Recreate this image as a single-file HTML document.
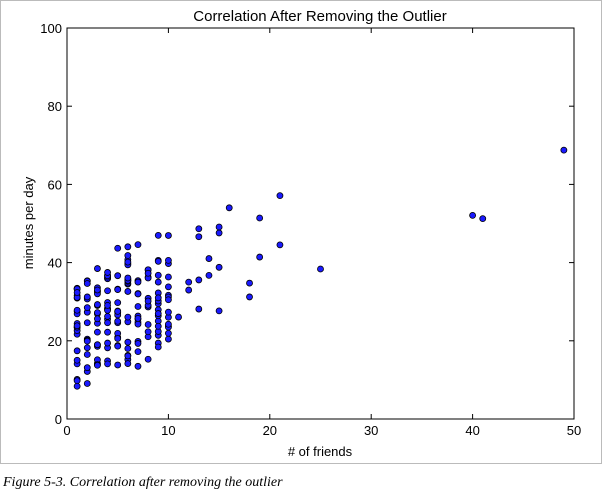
<!DOCTYPE html>
<html><head><meta charset="utf-8"><style>
body{margin:0;width:606px;height:498px;background:#fff;overflow:hidden;font-family:"Liberation Sans","DejaVu Sans",sans-serif}
</style></head><body>
<svg id="chart" width="606" height="498" xmlns="http://www.w3.org/2000/svg">
<rect x="0.5" y="0.5" width="601" height="463" fill="#fff" stroke="#bbb"/>
<text x="320" y="21" text-anchor="middle" font-size="15">Correlation After Removing the Outlier</text>
<g id="plot"></g>
<text x="320" y="456" text-anchor="middle" font-size="13"># of friends</text>
<text transform="translate(33,223) rotate(-90)" text-anchor="middle" font-size="13">minutes per day</text>
<text x="3" y="486" font-size="14" font-style="italic" font-family="Liberation Serif, serif">Figure 5-3. Correlation after removing the outlier</text>
</svg>
<script>
const xTicks=[0,10,20,30,40,50];
const yTicks=[0,20,40,60,80,100];
const numFriends=[49,41,40,25,21,21,19,19,18,18,16,15,15,15,15,14,14,13,13,13,13,12,12,11,10,10,10,10,10,10,10,10,10,10,10,10,10,10,10,9,9,9,9,9,9,9,9,9,9,9,9,9,9,9,9,9,9,8,8,8,8,8,8,8,8,8,8,8,8,8,7,7,7,7,7,7,7,7,7,7,7,7,7,7,7,6,6,6,6,6,6,6,6,6,6,6,6,6,6,6,6,6,6,6,6,6,6,5,5,5,5,5,5,5,5,5,5,5,5,5,5,5,5,5,4,4,4,4,4,4,4,4,4,4,4,4,4,4,4,4,4,4,4,4,3,3,3,3,3,3,3,3,3,3,3,3,3,3,3,3,3,3,3,3,2,2,2,2,2,2,2,2,2,2,2,2,2,2,2,2,2,1,1,1,1,1,1,1,1,1,1,1,1,1,1,1,1,1,1,1,1,1,1];
const dailyMinutes=[68.77,51.25,52.08,38.36,44.54,57.13,51.4,41.42,31.22,34.76,54.01,38.79,47.59,49.1,27.66,41.03,36.73,48.65,28.12,46.62,35.57,32.98,35,26.07,23.77,39.73,40.57,31.65,31.21,36.32,20.45,21.93,26.02,27.34,23.49,46.94,30.5,33.8,24.23,21.4,27.94,32.24,40.57,25.07,19.42,22.39,18.42,46.96,23.72,26.41,26.97,36.76,40.32,35.02,29.47,30.2,31,38.11,38.18,36.31,21.03,30.86,36.07,28.66,29.08,37.28,15.28,24.17,22.31,30.17,25.53,19.85,35.37,44.6,17.23,13.47,26.33,35.02,32.09,24.81,19.33,28.77,24.26,31.98,25.73,24.86,16.28,34.51,15.23,39.72,40.8,26.06,35.76,34.76,16.13,44.04,18.03,19.65,32.62,35.59,39.43,14.18,35.24,40.13,41.82,35.45,36.07,43.67,24.61,20.9,21.9,18.79,27.61,27.21,26.61,29.77,20.59,27.53,13.82,33.2,25,33.1,36.65,18.63,14.87,22.2,36.81,25.53,24.62,26.25,18.21,28.08,19.42,29.79,32.8,35.99,28.32,27.79,35.88,29.06,36.28,14.1,36.63,37.49,26.9,18.58,38.48,24.48,18.95,33.55,14.24,29.04,32.51,25.63,22.22,19,32.73,15.16,13.9,27.2,32.01,29.27,33,13.74,20.42,27.32,18.23,35.35,28.48,9.08,24.62,20.12,35.26,19.92,31.02,16.49,12.16,30.7,31.22,34.65,13.13,27.51,33.2,31.57,14.1,33.42,17.44,10.12,24.42,9.82,23.39,30.93,15.03,21.67,31.09,33.29,22.61,26.89,23.48,8.38,27.81,32.35,23.84];
const L=67,R=574,T=28,B=419;
const sx=v=>L+(v-0)/(50-0)*(R-L);
const sy=v=>B-(v-0)/(100-0)*(B-T);
const NS="http://www.w3.org/2000/svg";
const g=document.getElementById('plot');
function mk(t,a){const e=document.createElementNS(NS,t);for(const k in a)e.setAttribute(k,a[k]);g.appendChild(e);return e;}
const n=Math.min(numFriends.length,dailyMinutes.length);
for(let i=0;i<n;i++){
  const c=mk('circle',{cx:sx(numFriends[i]),cy:sy(dailyMinutes[i]),r:3,fill:'#1a1aff',stroke:'#000','stroke-width':0.8});
  
  
}
const fr=mk('rect',{x:L,y:T,width:R-L,height:B-T,fill:'none',stroke:'#000','stroke-width':1});


xTicks.forEach(v=>{
  const x=sx(v);
  mk('line',{x1:x,x2:x,y1:B,y2:B-5,stroke:'#000'});
  mk('line',{x1:x,x2:x,y1:T,y2:T+5,stroke:'#000'});
  const t=mk('text',{x:x,y:B+16,'text-anchor':'middle','font-size':13});
  t.textContent=v;
  
  
});
yTicks.forEach(v=>{
  const y=sy(v);
  mk('line',{x1:L,x2:L+5,y1:y,y2:y,stroke:'#000'});
  mk('line',{x1:R,x2:R-5,y1:y,y2:y,stroke:'#000'});
  const t=mk('text',{x:L-5,y:y+5,'text-anchor':'end','font-size':13});
  t.textContent=v;
  
  
});
</script>
</body></html>
